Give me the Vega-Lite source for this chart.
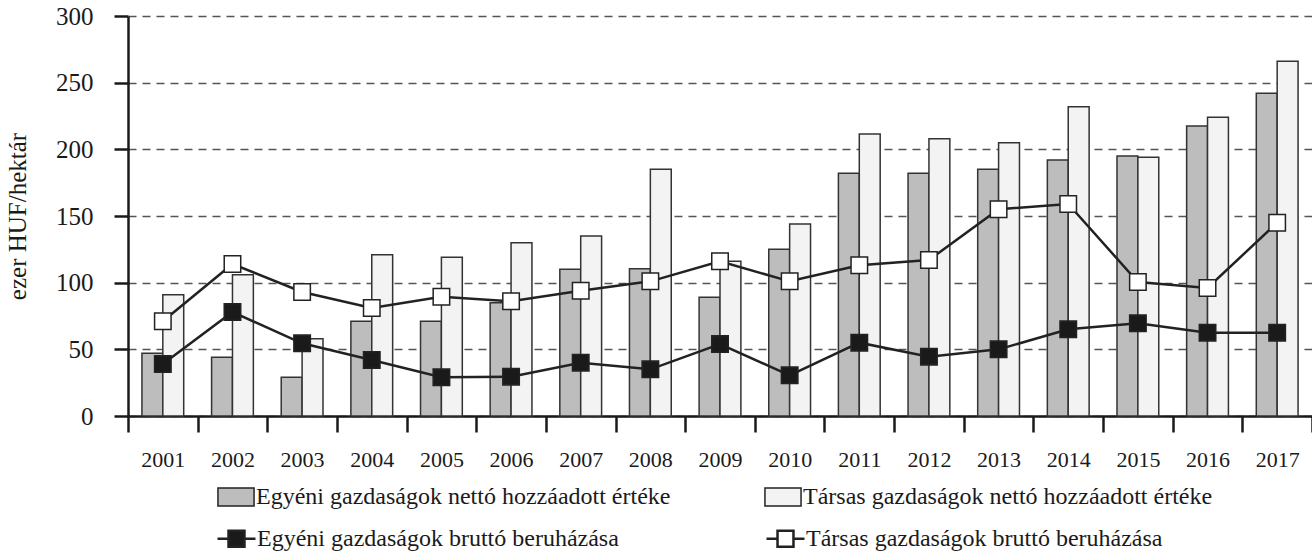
{
  "$schema": "https://vega.github.io/schema/vega-lite/v6.json",
  "width": 1184,
  "height": 400,
  "autosize": {"type": "none"},
  "padding": {"left": 128, "top": 16, "right": 0, "bottom": 136},
  "background": "white",
  "config": {
    "font": "Liberation Serif",
    "view": {"stroke": null},
    "axis": {
      "domainColor": "#1a1a1a",
      "domainWidth": 2.5,
      "tickColor": "#1a1a1a",
      "tickWidth": 2.5,
      "labelFont": "Liberation Serif",
      "labelColor": "#1a1a1a",
      "titleFont": "Liberation Serif",
      "titleColor": "#1a1a1a"
    },
    "legend": {
      "labelFont": "Liberation Serif",
      "labelFontSize": 24,
      "labelColor": "#1a1a1a",
      "labelLimit": 0,
      "labelOffset": 0,
      "symbolSize": 1444,
      "symbolOpacity": 1,
      "symbolStrokeColor": "#222222"
    }
  },
  "datasets": {
    "bars": [
      {"year": 2001, "series": "Egyéni gazdaságok nettó hozzáadott értéke", "value": 47},
      {"year": 2002, "series": "Egyéni gazdaságok nettó hozzáadott értéke", "value": 44},
      {"year": 2003, "series": "Egyéni gazdaságok nettó hozzáadott értéke", "value": 29},
      {"year": 2004, "series": "Egyéni gazdaságok nettó hozzáadott értéke", "value": 71},
      {"year": 2005, "series": "Egyéni gazdaságok nettó hozzáadott értéke", "value": 71},
      {"year": 2006, "series": "Egyéni gazdaságok nettó hozzáadott értéke", "value": 85},
      {"year": 2007, "series": "Egyéni gazdaságok nettó hozzáadott értéke", "value": 110},
      {"year": 2008, "series": "Egyéni gazdaságok nettó hozzáadott értéke", "value": 110.5},
      {"year": 2009, "series": "Egyéni gazdaságok nettó hozzáadott értéke", "value": 89},
      {"year": 2010, "series": "Egyéni gazdaságok nettó hozzáadott értéke", "value": 125},
      {"year": 2011, "series": "Egyéni gazdaságok nettó hozzáadott értéke", "value": 182},
      {"year": 2012, "series": "Egyéni gazdaságok nettó hozzáadott értéke", "value": 182},
      {"year": 2013, "series": "Egyéni gazdaságok nettó hozzáadott értéke", "value": 185},
      {"year": 2014, "series": "Egyéni gazdaságok nettó hozzáadott értéke", "value": 192},
      {"year": 2015, "series": "Egyéni gazdaságok nettó hozzáadott értéke", "value": 195},
      {"year": 2016, "series": "Egyéni gazdaságok nettó hozzáadott értéke", "value": 217.5},
      {"year": 2017, "series": "Egyéni gazdaságok nettó hozzáadott értéke", "value": 242},
      {"year": 2001, "series": "Társas gazdaságok nettó hozzáadott értéke", "value": 91},
      {"year": 2002, "series": "Társas gazdaságok nettó hozzáadott értéke", "value": 106},
      {"year": 2003, "series": "Társas gazdaságok nettó hozzáadott értéke", "value": 58},
      {"year": 2004, "series": "Társas gazdaságok nettó hozzáadott értéke", "value": 121},
      {"year": 2005, "series": "Társas gazdaságok nettó hozzáadott értéke", "value": 119},
      {"year": 2006, "series": "Társas gazdaságok nettó hozzáadott értéke", "value": 130},
      {"year": 2007, "series": "Társas gazdaságok nettó hozzáadott értéke", "value": 135},
      {"year": 2008, "series": "Társas gazdaságok nettó hozzáadott értéke", "value": 185},
      {"year": 2009, "series": "Társas gazdaságok nettó hozzáadott értéke", "value": 116},
      {"year": 2010, "series": "Társas gazdaságok nettó hozzáadott értéke", "value": 144},
      {"year": 2011, "series": "Társas gazdaságok nettó hozzáadott értéke", "value": 211.5},
      {"year": 2012, "series": "Társas gazdaságok nettó hozzáadott értéke", "value": 208},
      {"year": 2013, "series": "Társas gazdaságok nettó hozzáadott értéke", "value": 205},
      {"year": 2014, "series": "Társas gazdaságok nettó hozzáadott értéke", "value": 232},
      {"year": 2015, "series": "Társas gazdaságok nettó hozzáadott értéke", "value": 194},
      {"year": 2016, "series": "Társas gazdaságok nettó hozzáadott értéke", "value": 224},
      {"year": 2017, "series": "Társas gazdaságok nettó hozzáadott értéke", "value": 266}
    ],
    "lines": [
      {"year": 2001, "series": "Egyéni gazdaságok bruttó beruházása", "value": 39},
      {"year": 2002, "series": "Egyéni gazdaságok bruttó beruházása", "value": 78},
      {"year": 2003, "series": "Egyéni gazdaságok bruttó beruházása", "value": 54.5},
      {"year": 2004, "series": "Egyéni gazdaságok bruttó beruházása", "value": 42},
      {"year": 2005, "series": "Egyéni gazdaságok bruttó beruházása", "value": 29},
      {"year": 2006, "series": "Egyéni gazdaságok bruttó beruházása", "value": 29.5},
      {"year": 2007, "series": "Egyéni gazdaságok bruttó beruházása", "value": 40},
      {"year": 2008, "series": "Egyéni gazdaságok bruttó beruházása", "value": 35},
      {"year": 2009, "series": "Egyéni gazdaságok bruttó beruházása", "value": 54},
      {"year": 2010, "series": "Egyéni gazdaságok bruttó beruházása", "value": 30.5},
      {"year": 2011, "series": "Egyéni gazdaságok bruttó beruházása", "value": 55},
      {"year": 2012, "series": "Egyéni gazdaságok bruttó beruházása", "value": 44.5},
      {"year": 2013, "series": "Egyéni gazdaságok bruttó beruházása", "value": 50},
      {"year": 2014, "series": "Egyéni gazdaságok bruttó beruházása", "value": 65},
      {"year": 2015, "series": "Egyéni gazdaságok bruttó beruházása", "value": 69.5},
      {"year": 2016, "series": "Egyéni gazdaságok bruttó beruházása", "value": 62.5},
      {"year": 2017, "series": "Egyéni gazdaságok bruttó beruházása", "value": 62.5},
      {"year": 2001, "series": "Társas gazdaságok bruttó beruházása", "value": 71},
      {"year": 2002, "series": "Társas gazdaságok bruttó beruházása", "value": 114},
      {"year": 2003, "series": "Társas gazdaságok bruttó beruházása", "value": 93},
      {"year": 2004, "series": "Társas gazdaságok bruttó beruházása", "value": 81},
      {"year": 2005, "series": "Társas gazdaságok bruttó beruházása", "value": 89.5},
      {"year": 2006, "series": "Társas gazdaságok bruttó beruházása", "value": 86},
      {"year": 2007, "series": "Társas gazdaságok bruttó beruházása", "value": 94},
      {"year": 2008, "series": "Társas gazdaságok bruttó beruházása", "value": 101},
      {"year": 2009, "series": "Társas gazdaságok bruttó beruházása", "value": 116},
      {"year": 2010, "series": "Társas gazdaságok bruttó beruházása", "value": 101},
      {"year": 2011, "series": "Társas gazdaságok bruttó beruházása", "value": 113},
      {"year": 2012, "series": "Társas gazdaságok bruttó beruházása", "value": 117},
      {"year": 2013, "series": "Társas gazdaságok bruttó beruházása", "value": 155},
      {"year": 2014, "series": "Társas gazdaságok bruttó beruházása", "value": 159},
      {"year": 2015, "series": "Társas gazdaságok bruttó beruházása", "value": 100.5},
      {"year": 2016, "series": "Társas gazdaságok bruttó beruházása", "value": 96},
      {"year": 2017, "series": "Társas gazdaságok bruttó beruházása", "value": 145}
    ]
  },
  "encoding": {
    "x": {
      "field": "year",
      "type": "ordinal",
      "scale": {"paddingInner": 0, "paddingOuter": 0},
      "axis": {
        "title": null,
        "labelAngle": 0,
        "tickBand": "extent",
        "tickSize": 16,
        "labelFontSize": 22,
        "labelPadding": 17,
        "grid": false
      }
    },
    "y": {
      "field": "value",
      "type": "quantitative",
      "scale": {"domain": [0, 300], "nice": false},
      "axis": {
        "title": "ezer HUF/hektár",
        "values": [0, 50, 100, 150, 200, 250, 300],
        "tickSize": 14,
        "labelFontSize": 25,
        "labelPadding": 21,
        "grid": true,
        "gridDash": [8, 6],
        "gridColor": "#555555",
        "gridWidth": 1.5,
        "titleFontSize": 25,
        "titleFontWeight": "normal",
        "titlePadding": 25
      }
    }
  },
  "layer": [
    {
      "data": {"name": "bars"},
      "mark": {"type": "bar", "stroke": "#333333", "strokeWidth": 1.5},
      "encoding": {
        "xOffset": {
          "field": "series",
          "type": "nominal",
          "scale": {
            "domain": ["Egyéni gazdaságok nettó hozzáadott értéke", "Társas gazdaságok nettó hozzáadott értéke"],
            "paddingInner": 0,
            "paddingOuter": 0.667
          }
        },
        "fill": {
          "field": "series",
          "type": "nominal",
          "scale": {
            "domain": ["Egyéni gazdaságok nettó hozzáadott értéke", "Társas gazdaságok nettó hozzáadott értéke"],
            "range": ["#bdbdbd", "#f3f3f3"]
          },
          "legend": {
            "title": null,
            "orient": "none",
            "legendX": 88,
            "legendY": 461,
            "direction": "horizontal",
            "columns": 2,
            "columnPadding": 90,
            "symbolType": "M-0.95,-0.47H0.95V0.47H-0.95Z",
            "symbolStrokeWidth": 1.5
          }
        }
      }
    },
    {
      "data": {"name": "lines"},
      "mark": {"type": "line", "color": "#222222", "strokeWidth": 2.5},
      "encoding": {
        "detail": {"field": "series", "type": "nominal"}
      }
    },
    {
      "data": {"name": "lines"},
      "mark": {"type": "point", "shape": "square", "filled": true, "size": 272, "stroke": "#222222", "strokeWidth": 1.5, "opacity": 1},
      "encoding": {
        "color": {
          "field": "series",
          "type": "nominal",
          "scale": {
            "domain": ["Egyéni gazdaságok bruttó beruházása", "Társas gazdaságok bruttó beruházása"],
            "range": ["#1a1a1a", "#ffffff"]
          },
          "legend": {
            "title": null,
            "orient": "none",
            "legendX": 88,
            "legendY": 502,
            "direction": "horizontal",
            "columns": 2,
            "columnPadding": 142,
            "symbolType": "M-1,0H-0.42M0.42,0H1M-0.42,-0.42H0.42V0.42H-0.42Z",
            "symbolStrokeWidth": 2.5
          }
        }
      }
    }
  ]
}
